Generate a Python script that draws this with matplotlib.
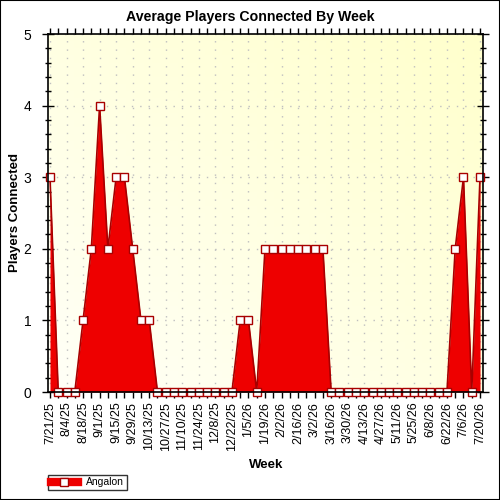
import matplotlib
matplotlib.use("Agg")
import matplotlib.pyplot as plt
import numpy as np
from matplotlib.patches import Rectangle
from matplotlib.lines import Line2D

plt.rcParams['font.family'] = ['Liberation Sans', 'DejaVu Sans']

# weekly averages, 7/21/25 .. 7/20/26
players = [3, 0, 0, 0, 1, 2, 4, 2, 3, 3, 2, 1, 1,
           0, 0, 0, 0, 0, 0, 0, 0, 0, 0,
           1, 1, 0,
           2, 2, 2, 2, 2, 2, 2, 2,
           0, 0, 0, 0, 0, 0, 0, 0, 0, 0, 0, 0, 0, 0, 0,
           2, 3, 0, 3]
tick_labels = ["7/21/25", "8/4/25", "8/18/25", "9/1/25", "9/15/25", "9/29/25",
               "10/13/25", "10/27/25", "11/10/25", "11/24/25", "12/8/25",
               "12/22/25", "1/5/26", "1/19/26", "2/2/26", "2/16/26", "3/2/26",
               "3/16/26", "3/30/26", "4/13/26", "4/27/26", "5/11/26",
               "5/25/26", "6/8/26", "6/22/26", "7/6/26", "7/20/26"]
series_name = "Angalon"

x = np.arange(len(players))
fill_color = '#EE0000'
edge_color = '#A80000'

fig = plt.figure(figsize=(5, 5), dpi=100)
fig.patches.append(Rectangle((0, 0), 1, 1, transform=fig.transFigure,
                             fill=False, edgecolor='black', linewidth=1.5))
ax = fig.add_axes([0.096, 0.216, 0.870, 0.716])

# light yellow gradient background
gx, gy = np.meshgrid(np.linspace(0, 1, 50), np.linspace(0, 1, 50))
g = (gx + gy) / 2
bg = np.zeros((50, 50, 3))
bg[..., 0] = 1.0
bg[..., 1] = 1.0
bg[..., 2] = 0.97 - 0.17 * g
ax.imshow(bg, extent=[0, 1, 0, 1], transform=ax.transAxes, origin='lower',
          aspect='auto', zorder=0)

ax.fill_between(x, players, 0, color=fill_color, zorder=2, linewidth=0)
ax.plot(x, players, color=edge_color, linewidth=1.2, zorder=3)
ax.plot(x, players, linestyle='none', marker='s', markersize=6,
        markerfacecolor='white', markeredgecolor=edge_color,
        markeredgewidth=1.0, zorder=4, clip_on=False)

ax.set_xlim(-0.24, 52.36)
ax.set_ylim(0, 5)

ax.set_xticks(x[::2])
ax.set_xticklabels(tick_labels, rotation=90, fontsize=9)
ax.set_xticks(x, minor=True)
ax.set_yticks(range(6))
ax.set_yticklabels([str(v) for v in range(6)], fontsize=10)
ax.set_yticks(np.arange(0, 5.01, 0.2), minor=True)

ax.tick_params(axis='x', which='both', direction='out', length=4, width=1,
               top=True, pad=3)
ax.tick_params(axis='y', which='major', direction='inout', length=8, width=1,
               right=True, pad=8)
ax.tick_params(axis='y', which='minor', direction='inout', length=5, width=1,
               right=True)

ax.set_axisbelow(True)
ax.grid(True, which='major', color='#BFBFBF', linestyle=(0, (1, 5)),
        linewidth=1)
for s in ax.spines.values():
    s.set_linewidth(1.2)
    s.set_zorder(5)

fig.text(0.5, 0.966, "Average Players Connected By Week", ha='center',
         va='center', fontsize=10.2, fontweight='bold')
fig.text(0.532, 0.07, "Week", ha='center', va='center', fontsize=9.5,
         fontweight='bold')
fig.text(0.03, 0.574, "Players Connected", ha='center', va='center',
         rotation=90, fontsize=9.5, fontweight='bold')

handle = Line2D([0], [0], color=fill_color, linewidth=6, marker='s',
                markersize=5.5, markerfacecolor='white',
                markeredgecolor=edge_color)
leg = fig.legend([handle], [series_name], loc='lower left',
                 bbox_to_anchor=(0.096, 0.02), fontsize=7.5, frameon=True,
                 fancybox=False, handlelength=2.6, borderpad=0.25,
                 handletextpad=0.8, borderaxespad=0)
leg.get_frame().set_edgecolor('black')
leg.get_frame().set_linewidth(1)

fig.savefig('out.png', dpi=100)
